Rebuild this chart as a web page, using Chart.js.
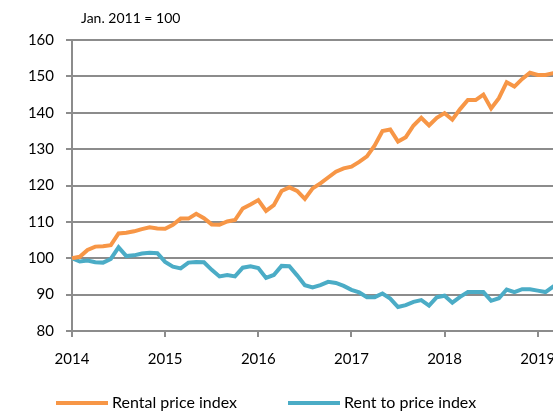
<!DOCTYPE html>
<html>
<head>
<meta charset="utf-8">
<script src="https://cdn.jsdelivr.net/npm/chart.js@4"></script>
<style>
  html, body { margin: 0; padding: 0; background: #fff; overflow: hidden; }
  #wrap { position: absolute; left: 0; top: 0; width: 600px; height: 411px; }
</style>
</head>
<body>
<div id="wrap"><canvas id="rentChart"></canvas></div>
<script>
// monthly values, Jan 2014 onwards
const rentalPriceIndex = [
  100, 100.4, 102.3, 103.2, 103.3, 103.6, 106.8, 107, 107.4, 108, 108.5, 108.2,
  108.1, 109.2, 110.9, 110.9, 112.2, 111, 109.3, 109.2, 110.1, 110.5, 113.7, 114.8,
  116, 113, 114.6, 118.5, 119.5, 118.5, 116.3, 119.2, 120.6, 122.2, 123.8, 124.7,
  125.2, 126.5, 128, 131, 135, 135.4, 132.1, 133.3, 136.5, 138.6, 136.5, 138.6,
  139.9, 138.1, 141, 143.5, 143.5, 145, 141.2, 144, 148.4, 147.2, 149.3, 151,
  150.4, 150.4, 150.9, 151.3
];
const rentToPriceIndex = [
  100, 99.1, 99.4, 98.9, 98.8, 99.8, 103, 100.6, 100.8, 101.3, 101.5, 101.4,
  99, 97.7, 97.2, 98.8, 99, 98.9, 96.8, 95, 95.4, 95, 97.4, 97.8,
  97.3, 94.6, 95.4, 97.9, 97.8, 95.3, 92.6, 92, 92.6, 93.5, 93.2, 92.4,
  91.3, 90.6, 89.3, 89.3, 90.3, 88.9, 86.6, 87.1, 88, 88.5, 87, 89.3,
  89.7, 87.8, 89.4, 90.7, 90.7, 90.7, 88.3, 89, 91.4, 90.7, 91.5, 91.5,
  91.1, 90.7, 92.2, 92.2
];
const yearLabels = ["2014", "2015", "2016", "2017", "2018", "2019"];
const seriesNames = ["Rental price index", "Rent to price index"];
const baseNote = "Jan. 2011 = 100";

const gridGray = "#8c8c8c";
const fontFamily = "Lato, 'Open Sans', sans-serif";
const font = { family: fontFamily, size: 15 };

const toPoints = arr => arr.map((v, i) => ({ x: i, y: v }));

// note above the plot + legend under the x axis
const extrasPlugin = {
  id: "extras",
  afterDraw(chart) {
    const c = chart.ctx;
    c.save();
    c.fillStyle = "#000";
    c.textBaseline = "middle";
    c.font = "14px " + fontFamily;
    c.fillText(baseNote, chart.chartArea.left + 9, 18);

    const legendX = [56, 288];
    const legendY = 403;
    c.font = "16px " + fontFamily;
    chart.data.datasets.forEach((ds, i) => {
      c.fillStyle = ds.borderColor;
      c.fillRect(legendX[i], legendY - 2, 52, 4);
      c.fillStyle = "#000";
      c.fillText(ds.label, legendX[i] + 56, legendY);
    });
    c.restore();
  }
};

new Chart(document.getElementById("rentChart"), {
  type: "line",
  data: {
    datasets: [
      {
        label: seriesNames[0],
        data: toPoints(rentalPriceIndex),
        borderColor: "#F79646",
        backgroundColor: "#F79646",
        borderWidth: 4,
        pointRadius: 0,
        tension: 0,
        clip: false
      },
      {
        label: seriesNames[1],
        data: toPoints(rentToPriceIndex),
        borderColor: "#4BACC6",
        backgroundColor: "#4BACC6",
        borderWidth: 4,
        pointRadius: 0,
        tension: 0,
        clip: false
      }
    ]
  },
  options: {
    responsive: true,
    maintainAspectRatio: false,
    animation: false,
    layout: { padding: { left: 0, right: 39, top: 40, bottom: 30 } },
    plugins: {
      legend: { display: false },
      tooltip: { enabled: false }
    },
    scales: {
      x: {
        type: "linear",
        min: 0,
        max: 63,
        afterFit: s => { s.height = 50; },
        ticks: {
          stepSize: 12,
          includeBounds: false,
          color: "#000",
          font,
          padding: 13,
          maxRotation: 0,
          autoSkip: false,
          callback: v => (v % 12 === 0 ? yearLabels[v / 12] : "")
        },
        grid: {
          drawOnChartArea: false,
          color: gridGray,
          lineWidth: 2,
          tickLength: 6
        },
        border: { color: gridGray, width: 2 }
      },
      y: {
        min: 80,
        max: 160,
        afterFit: s => { s.width = 72; },
        ticks: {
          stepSize: 10,
          color: "#000",
          font,
          padding: 12
        },
        grid: {
          color: gridGray,
          lineWidth: 2,
          tickLength: 6
        },
        border: { color: gridGray, width: 2 }
      }
    }
  },
  plugins: [extrasPlugin]
});
</script>
</body>
</html>
